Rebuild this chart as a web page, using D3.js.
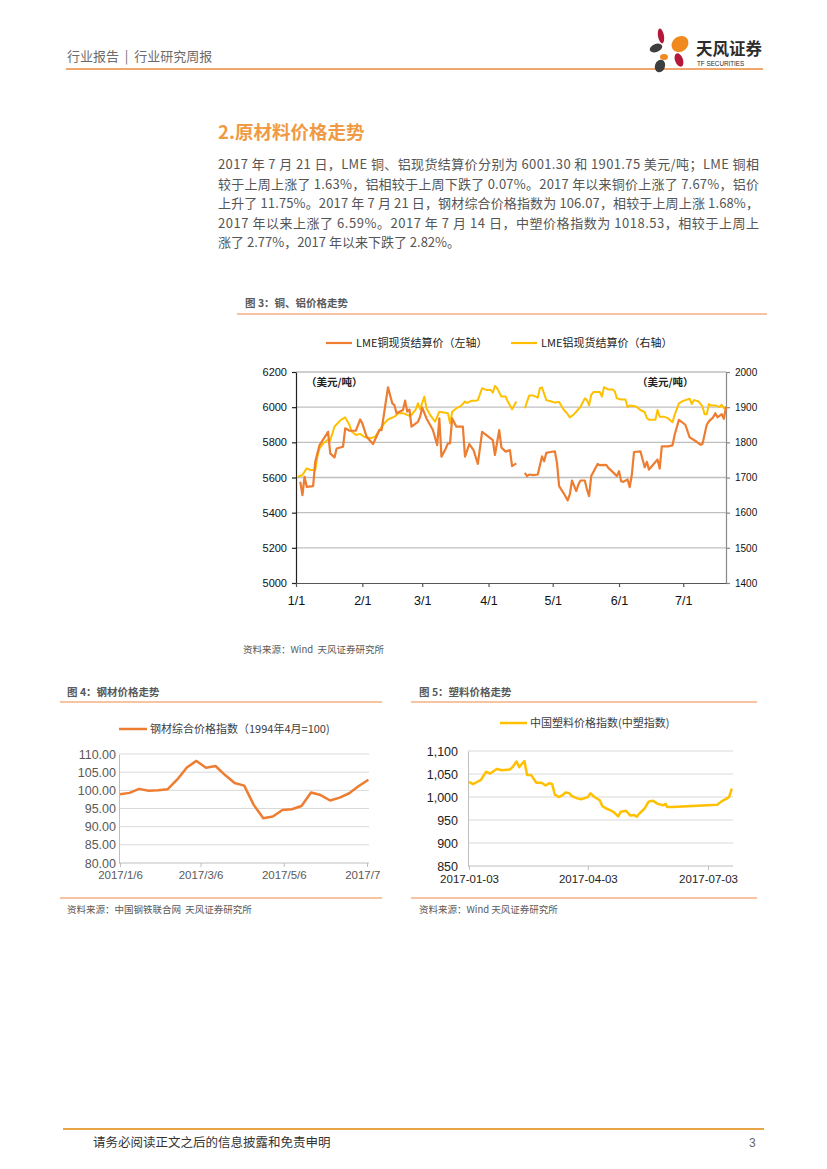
<!DOCTYPE html>
<html><head><meta charset="utf-8">
<script src="https://cdn.jsdelivr.net/npm/d3@7/dist/d3.min.js"></script>
<style>body{margin:0;background:#fff}svg{display:block}text{white-space:pre}</style>
</head><body>
<svg id="page" width="827" height="1169"></svg>
<script>
// ---------- Figure 3: LME copper / aluminium (2017) ----------
const cuDates = ["01-03","01-04","01-05","01-06","01-09","01-10","01-12","01-16","01-17","01-19","01-20","01-23","01-24","01-26","01-29","01-31","02-01","02-03","02-06","02-09","02-10","02-13","02-15","02-16","02-17","02-20","02-21","02-22","02-23","02-24","02-27","02-28","03-01","03-03","03-06","03-08","03-09","03-10","03-12","03-13","03-14","03-15","03-17","03-18","03-20","03-21","03-23","03-25","03-27","03-29","03-31","04-03","04-04","04-06","04-07","04-09","04-11","04-12","04-14","04-16","04-18","04-19","04-20","04-22","04-24","04-26","04-27","04-28","04-30","05-02","05-03","05-04","05-06","05-08","05-09","05-10","05-12","05-13","05-14","05-16","05-17","05-18","05-19","05-22","05-23","05-26","05-27","05-29","05-31","06-01","06-02","06-03","06-05","06-06","06-07","06-08","06-11","06-13","06-14","06-15","06-19","06-20","06-21","06-24","06-26","06-27","06-29","07-02","07-04","07-07","07-09","07-10","07-12","07-13","07-15","07-16","07-17","07-19","07-20","07-21"];
const cuValues = [5576,5500,5604,5547,5551,5690,5784,5860,5737,5714,5765,5775,5880,5866,5866,5930,5908,5832,5790,5870,5870,6113,6022,6012,5965,5984,6037,5975,5987,5889,5917,5946,5997,5936,5870,5784,5936,5718,5765,5794,5794,5936,5889,5889,5889,5718,5790,5756,5677,5860,5841,5813,5728,5870,5771,5747,5756,5665,5680,null,5626,5607,5617,5614,5617,5720,5692,5740,5745,5749,5683,5551,5513,5470,5504,5583,5523,5560,5583,5583,5532,5494,5608,5677,5670,5672,5655,5632,5608,5636,5579,5575,5589,5545,5617,5745,5749,5658,5689,5645,5702,5651,5777,5777,5783,5843,5928,5900,5828,5806,5787,5790,5900,5919,5942,5966,5942,5960,5934,6001];
const alDates = ["01-02","01-04","01-06","01-08","01-10","01-11","01-12","01-14","01-16","01-17","01-19","01-22","01-24","01-26","01-27","01-29","01-31","02-02","02-05","02-07","02-09","02-11","02-13","02-16","02-18","02-20","02-23","02-24","02-26","02-27","02-28","03-02","03-03","03-05","03-07","03-09","03-11","03-13","03-14","03-15","03-17","03-19","03-21","03-22","03-24","03-26","03-27","03-29","03-31","04-02","04-03","04-04","04-05","04-07","04-09","04-10","04-12","04-14","04-16","04-18","04-19","04-20","04-22","04-24","04-25","04-26","04-28","04-30","05-02","05-04","05-06","05-08","05-09","05-11","05-13","05-14","05-16","05-17","05-18","05-19","05-20","05-23","05-24","05-25","05-27","05-29","05-30","05-31","06-02","06-04","06-05","06-06","06-09","06-11","06-13","06-14","06-15","06-18","06-19","06-20","06-22","06-24","06-26","06-27","06-29","07-01","07-04","07-05","07-06","07-08","07-10","07-11","07-12","07-13","07-14","07-16","07-18","07-19","07-20","07-21"];
const alValues = [1702,1707,1726,1721,1721,1759,1783,1799,1808,1805,1845,1864,1871,1849,1831,1821,1824,1815,1812,1816,1835,1852,1865,1873,1883,1883,1875,1878,1894,1911,1894,1930,1897,1875,1859,1887,1885,1883,1854,1887,1897,1903,1916,1912,1918,1918,1920,1954,1949,1949,1941,1960,1954,1930,1930,1916,1894,1916,null,1897,1916,1933,1933,1927,1954,1956,1920,1917,1913,1915,1894,1880,1871,1880,1894,1901,1925,1920,1905,1935,1943,1943,1930,1957,1950,1950,1945,1925,1922,1922,1900,1905,1902,1892,1886,1869,1864,1864,1892,1873,1873,1868,1857,1878,1911,1918,1924,1909,1920,1917,1902,1880,1880,1909,1905,1905,1900,1907,1897,1902];
const cuTicks = [5000,5200,5400,5600,5800,6000,6200];
const alTicks = [1400,1500,1600,1700,1800,1900,2000];
const monthTicks = ["01-01","02-01","03-01","04-01","05-01","06-01","07-01"];

// ---------- Figure 4: steel composite price index (weekly) ----------
const steelDates = ["01-06","01-13","01-20","01-27","02-03","02-10","02-17","02-24","03-03","03-10","03-17","03-24","03-31","04-07","04-14","04-21","04-28","05-05","05-12","05-19","05-26","06-02","06-09","06-16","06-23","06-30","07-07"];
const steelValues = [98.9,99.3,100.4,99.9,100.0,100.3,103.0,106.3,108.1,106.2,106.7,104.2,102.0,101.3,96.0,92.3,92.8,94.6,94.8,95.7,99.4,98.7,97.2,98.0,99.2,101.2,102.9];
const steelTicks = [80,85,90,95,100,105,110];
const steelDateTicks = ["01-06","03-06","05-06","07-06"];

// ---------- Figure 5: China plastics price index ----------
const plasDates = ["01-03","01-06","01-08","01-12","01-16","01-19","01-21","01-24","01-28","02-03","02-05","02-08","02-10","02-13","02-14","02-16","02-19","02-23","02-27","03-02","03-05","03-07","03-09","03-12","03-15","03-17","03-20","03-22","03-26","03-29","03-31","04-03","04-05","04-08","04-12","04-14","04-17","04-21","04-23","04-26","04-28","05-02","05-05","05-08","05-10","05-12","05-16","05-19","05-22","05-26","05-30","06-01","06-02","06-06","07-10","07-13","07-18","07-19","07-21"];
const plasValues = [1033,1028,1031,1037,1055,1051,1055,1061,1058,1060,1065,1077,1065,1075,1078,1048,1048,1031,1031,1025,1030,1028,1005,1000,1004,1010,1008,1002,997,995,997,1000,1008,1000,993,980,975,970,966,958,968,970,960,961,957,964,975,990,992,985,982,985,978,978,983,990,998,1000,1018];
const plasTicks = [850,900,950,1000,1050,1100];
const plasDateTicks = ["01-03","04-03","07-03"];

// ---------- text ----------
const headerText = "行业报告  |  行业研究周报";
const sectionTitle = "2.原材料价格走势";
const bodyLines = [
  "2017 年 7 月 21 日，LME 铜、铝现货结算价分别为 6001.30 和 1901.75 美元/吨；LME 铜相",
  "较于上周上涨了 1.63%，铝相较于上周下跌了 0.07%。2017 年以来铜价上涨了 7.67%，铝价",
  "上升了 11.75%。2017 年 7 月 21 日，钢材综合价格指数为 106.07，相较于上周上涨 1.68%，",
  "2017 年以来上涨了 6.59%。2017 年 7 月 14 日，中塑价格指数为 1018.53，相较于上周上",
  "涨了 2.77%，2017 年以来下跌了 2.82%。"
];
const footerText = "请务必阅读正文之后的信息披露和免责申明";

const CJK = "'Noto Sans CJK SC','Noto Sans',sans-serif";
const LAT = "'Liberation Sans',Arial,sans-serif";
const ORANGE = "#ED7D31", GOLD = "#FFC000";
const parse = d3.timeParse("%Y-%m-%d");
const pd = s => parse("2017-" + s);
const pts = (ds, vs) => ds.map((d, i) => ({date: pd(d), v: vs[i]}));

const svg = d3.select("#page");
svg.append("rect").attr("width", 827).attr("height", 1169).attr("fill", "#fff");

// ---------- header ----------
svg.append("text").attr("x", 67).attr("y", 61).attr("font-family", CJK).attr("font-size", 13)
  .attr("fill", "#6b6b6b").text(headerText);
svg.append("line").attr("x1", 66).attr("x2", 763).attr("y1", 69).attr("y2", 69)
  .attr("stroke", "#EA8A3C").attr("stroke-width", 1.6);
// logo
const logo = svg.append("g");
[[661,36,3,7.5,-10,"#B5173B"],[656,48,6.5,4,-20,"#3e3e3e"],[680,44,9,7.5,-35,"#F08A1E"],
 [664,57,4,3,0,"#F08A1E"],[679,60,4,7,-20,"#B5173B"],[660,66,5,6.5,20,"#3e3e3e"]].forEach(p => {
  logo.append("ellipse").attr("cx", p[0]).attr("cy", p[1]).attr("rx", p[2]).attr("ry", p[3])
    .attr("transform", `rotate(${p[4]},${p[0]},${p[1]})`).attr("fill", p[5]);
});
logo.append("text").attr("x", 696).attr("y", 55).attr("font-family", CJK).attr("font-weight", "bold")
  .attr("font-size", 16.5).attr("fill", "#2d2d2d").text("天风证券");
logo.append("text").attr("x", 697).attr("y", 66).attr("font-family", LAT)
  .attr("font-size", 6.3).attr("fill", "#2d2d2d").text("TF SECURITIES");

// ---------- section text ----------
svg.append("text").attr("x", 218).attr("y", 139).attr("font-family", CJK).attr("font-weight", "bold")
  .attr("font-size", 18.5).attr("fill", "#F09A45").text(sectionTitle);
bodyLines.forEach((t, i) => {
  const el = svg.append("text").attr("x", 218).attr("y", 169 + i * 19.5).attr("font-family", CJK)
    .attr("font-size", 13).attr("fill", "#555").text(t);
  if (i < bodyLines.length - 1) el.attr("textLength", 541).attr("lengthAdjust", "spacing");
});

// ---------- Figure 3 ----------
const f3 = svg.append("g");
f3.append("text").attr("x", 245).attr("y", 307).attr("font-family", CJK).attr("font-weight", "bold")
  .attr("font-size", 10.5).attr("fill", "#595959").text("图 3：铜、铝价格走势");
f3.append("line").attr("x1", 237).attr("x2", 767).attr("y1", 314).attr("y2", 314)
  .attr("stroke", "#F4B183").attr("stroke-width", 1.5);
// legend
[[326, ORANGE, "LME铜现货结算价（左轴）"], [511, GOLD, "LME铝现货结算价（右轴）"]].forEach(l => {
  f3.append("line").attr("x1", l[0]).attr("x2", l[0] + 26).attr("y1", 343).attr("y2", 343)
    .attr("stroke", l[1]).attr("stroke-width", 2.2);
  f3.append("text").attr("x", l[0] + 30).attr("y", 347).attr("font-family", CJK).attr("font-size", 11)
    .attr("fill", "#222").text(l[2]);
});
const x3 = d3.scaleTime().domain([pd("01-01"), pd("07-21")]).range([296, 726]);
const yL = d3.scaleLinear().domain([5000, 6200]).range([583, 372]);
const yR = d3.scaleLinear().domain([1400, 2000]).range([583, 372]);
f3.append("g").selectAll("line").data(cuTicks.slice(1)).join("line")
  .attr("x1", 296).attr("x2", 726).attr("y1", d => yL(d)).attr("y2", d => yL(d))
  .attr("stroke", "#BFBFBF").attr("stroke-width", 1.3);
const axL = f3.append("g").attr("transform", "translate(296,0)")
  .call(d3.axisLeft(yL).tickValues(cuTicks).tickSize(4).tickSizeOuter(0).tickPadding(5).tickFormat(d3.format("d")));
const axR = f3.append("g").attr("transform", "translate(726,0)")
  .call(d3.axisRight(yR).tickValues(alTicks).tickSize(4).tickSizeOuter(0).tickPadding(5).tickFormat(d3.format("d")));
const axB = f3.append("g").attr("transform", "translate(0,583)")
  .call(d3.axisBottom(x3).tickValues(monthTicks.map(pd)).tickSize(4).tickSizeOuter(0).tickPadding(9)
    .tickFormat(d3.timeFormat("%-m/%-d")));
axL.selectAll("text").attr("font-family", LAT).attr("font-size", 11).attr("fill", "#111");
axR.selectAll("text").attr("font-family", LAT).attr("font-size", 10).attr("fill", "#111");
axB.selectAll("text").attr("font-family", LAT).attr("font-size", 12.5).attr("fill", "#111");
axL.selectAll("path,line").attr("stroke", "#222").attr("stroke-width", 1.2);
axB.selectAll("path,line").attr("stroke", "#555").attr("stroke-width", 1.2);
axR.selectAll("path,line").attr("stroke", "#888").attr("stroke-width", 1.2);
f3.append("text").attr("x", 306).attr("y", 386).attr("font-family", CJK).attr("font-weight", "bold")
  .attr("font-size", 10.5).attr("fill", "#222").text("（美元/吨）");
f3.append("text").attr("x", 637).attr("y", 386).attr("font-family", CJK).attr("font-weight", "bold")
  .attr("font-size", 10.5).attr("fill", "#222").text("（美元/吨）");
f3.append("path").datum(pts(alDates, alValues))
  .attr("d", d3.line().defined(d => d.v != null).x(d => x3(d.date)).y(d => yR(d.v)))
  .attr("fill", "none").attr("stroke", GOLD).attr("stroke-width", 2).attr("stroke-linejoin", "round");
f3.append("path").datum(pts(cuDates, cuValues))
  .attr("d", d3.line().defined(d => d.v != null).x(d => x3(d.date)).y(d => yL(d.v)))
  .attr("fill", "none").attr("stroke", ORANGE).attr("stroke-width", 2.2).attr("stroke-linejoin", "round");
f3.append("text").attr("x", 243).attr("y", 653).attr("font-family", CJK).attr("font-size", 9.5)
  .attr("fill", "#595959").text("资料来源：Wind  天风证券研究所");

// ---------- Figure 4 ----------
const f4 = svg.append("g");
svg.append("defs").append("clipPath").attr("id", "c4").append("rect")
  .attr("x", 55).attr("y", 700).attr("width", 325).attr("height", 200);
f4.append("text").attr("x", 67).attr("y", 696).attr("font-family", CJK).attr("font-weight", "bold")
  .attr("font-size", 10.5).attr("fill", "#595959").text("图 4：钢材价格走势");
f4.append("line").attr("x1", 60).attr("x2", 382).attr("y1", 702).attr("y2", 702)
  .attr("stroke", "#F4B183").attr("stroke-width", 1.5);
f4.append("line").attr("x1", 60).attr("x2", 382).attr("y1", 898).attr("y2", 898)
  .attr("stroke", "#F4B183").attr("stroke-width", 1.5);
f4.append("line").attr("x1", 119).attr("x2", 147).attr("y1", 729).attr("y2", 729)
  .attr("stroke", ORANGE).attr("stroke-width", 2.5);
f4.append("text").attr("x", 150).attr("y", 733).attr("font-family", CJK).attr("font-size", 11)
  .attr("fill", "#404040").text("钢材综合价格指数（1994年4月=100)");
const x4 = d3.scaleTime().domain([pd("01-06"), pd("07-06")]).range([120, 367]);
const y4 = d3.scaleLinear().domain([80, 110]).range([863, 754]);
const g4 = f4.append("g").attr("clip-path", "url(#c4)");
g4.append("g").selectAll("line").data(steelTicks.slice(1)).join("line")
  .attr("x1", 119).attr("x2", 369).attr("y1", d => y4(d)).attr("y2", d => y4(d))
  .attr("stroke", "#D9D9D9").attr("stroke-width", 1);
const ax4L = g4.append("g").attr("transform", "translate(119,0)")
  .call(d3.axisLeft(y4).tickValues(steelTicks).tickSize(0).tickSizeOuter(0).tickPadding(3).tickFormat(d3.format(".2f")));
const ax4B = g4.append("g").attr("transform", "translate(0,863)")
  .call(d3.axisBottom(x4).tickValues(steelDateTicks.map(pd)).tickSize(4).tickSizeOuter(0).tickPadding(4)
    .tickFormat(d3.timeFormat("%Y/%-m/%-d")));
ax4B.select(".domain").attr("d", "M119,0H369");
[ax4L, ax4B].forEach(a => {
  a.select(".domain").attr("stroke", "#BFBFBF");
  a.selectAll(".tick line").attr("stroke", "#BFBFBF");
  a.selectAll("text").attr("font-family", LAT).attr("fill", "#595959");
});
ax4L.selectAll("text").attr("font-size", 12.5);
ax4B.selectAll("text").attr("font-size", 11.5);
g4.append("path").datum(pts(steelDates, steelValues))
  .attr("d", d3.line().x(d => x4(d.date)).y(d => y4(d.v)))
  .attr("fill", "none").attr("stroke", ORANGE).attr("stroke-width", 2.5).attr("stroke-linejoin", "round");
f4.append("text").attr("x", 67).attr("y", 913).attr("font-family", CJK).attr("font-size", 9.5)
  .attr("fill", "#595959").text("资料来源：中国钢铁联合网  天风证券研究所");

// ---------- Figure 5 ----------
const f5 = svg.append("g");
f5.append("text").attr("x", 419).attr("y", 696).attr("font-family", CJK).attr("font-weight", "bold")
  .attr("font-size", 10.5).attr("fill", "#595959").text("图 5：塑料价格走势");
f5.append("line").attr("x1", 411).attr("x2", 757).attr("y1", 702).attr("y2", 702)
  .attr("stroke", "#F4B183").attr("stroke-width", 1.5);
f5.append("line").attr("x1", 411).attr("x2", 757).attr("y1", 898).attr("y2", 898)
  .attr("stroke", "#F4B183").attr("stroke-width", 1.5);
f5.append("line").attr("x1", 500).attr("x2", 527).attr("y1", 723).attr("y2", 723)
  .attr("stroke", GOLD).attr("stroke-width", 2.5);
f5.append("text").attr("x", 530).attr("y", 727).attr("font-family", CJK).attr("font-size", 11)
  .attr("fill", "#404040").text("中国塑料价格指数(中塑指数)");
const x5 = d3.scaleTime().domain([pd("01-03"), pd("07-03")]).range([469, 708]);
const y5 = d3.scaleLinear().domain([850, 1100]).range([866, 751]);
f5.append("g").selectAll("line").data(plasTicks.slice(1)).join("line")
  .attr("x1", 468).attr("x2", 733).attr("y1", d => y5(d)).attr("y2", d => y5(d))
  .attr("stroke", "#D9D9D9").attr("stroke-width", 1);
const ax5L = f5.append("g").attr("transform", "translate(468,0)")
  .call(d3.axisLeft(y5).tickValues(plasTicks).tickSize(0).tickSizeOuter(0).tickPadding(10).tickFormat(d3.format(",")));
const ax5B = f5.append("g").attr("transform", "translate(0,866)")
  .call(d3.axisBottom(x5).tickValues(plasDateTicks.map(pd)).tickSize(4).tickSizeOuter(0).tickPadding(5)
    .tickFormat(d3.timeFormat("%Y-%m-%d")));
ax5B.select(".domain").attr("d", "M468,0H733");
[ax5L, ax5B].forEach(a => {
  a.select(".domain").attr("stroke", "#BFBFBF");
  a.selectAll(".tick line").attr("stroke", "#BFBFBF");
  a.selectAll("text").attr("font-family", LAT).attr("fill", "#222");
});
ax5L.selectAll("text").attr("font-size", 12.5);
ax5B.selectAll("text").attr("font-size", 11.5);
f5.append("path").datum(pts(plasDates, plasValues))
  .attr("d", d3.line().x(d => x5(d.date)).y(d => y5(d.v)))
  .attr("fill", "none").attr("stroke", GOLD).attr("stroke-width", 2.5).attr("stroke-linejoin", "round");
f5.append("text").attr("x", 419).attr("y", 913).attr("font-family", CJK).attr("font-size", 9.5)
  .attr("fill", "#595959").text("资料来源：Wind 天风证券研究所");

// ---------- footer ----------
svg.append("line").attr("x1", 63).attr("x2", 764).attr("y1", 1129).attr("y2", 1129)
  .attr("stroke", "#E9A448").attr("stroke-width", 2);
svg.append("text").attr("x", 93).attr("y", 1147).attr("font-family", CJK).attr("font-size", 12.5)
  .attr("fill", "#333").text(footerText);
svg.append("text").attr("x", 749).attr("y", 1147).attr("font-family", LAT).attr("font-size", 12)
  .attr("fill", "#666").text("3");
</script>
</body></html>
